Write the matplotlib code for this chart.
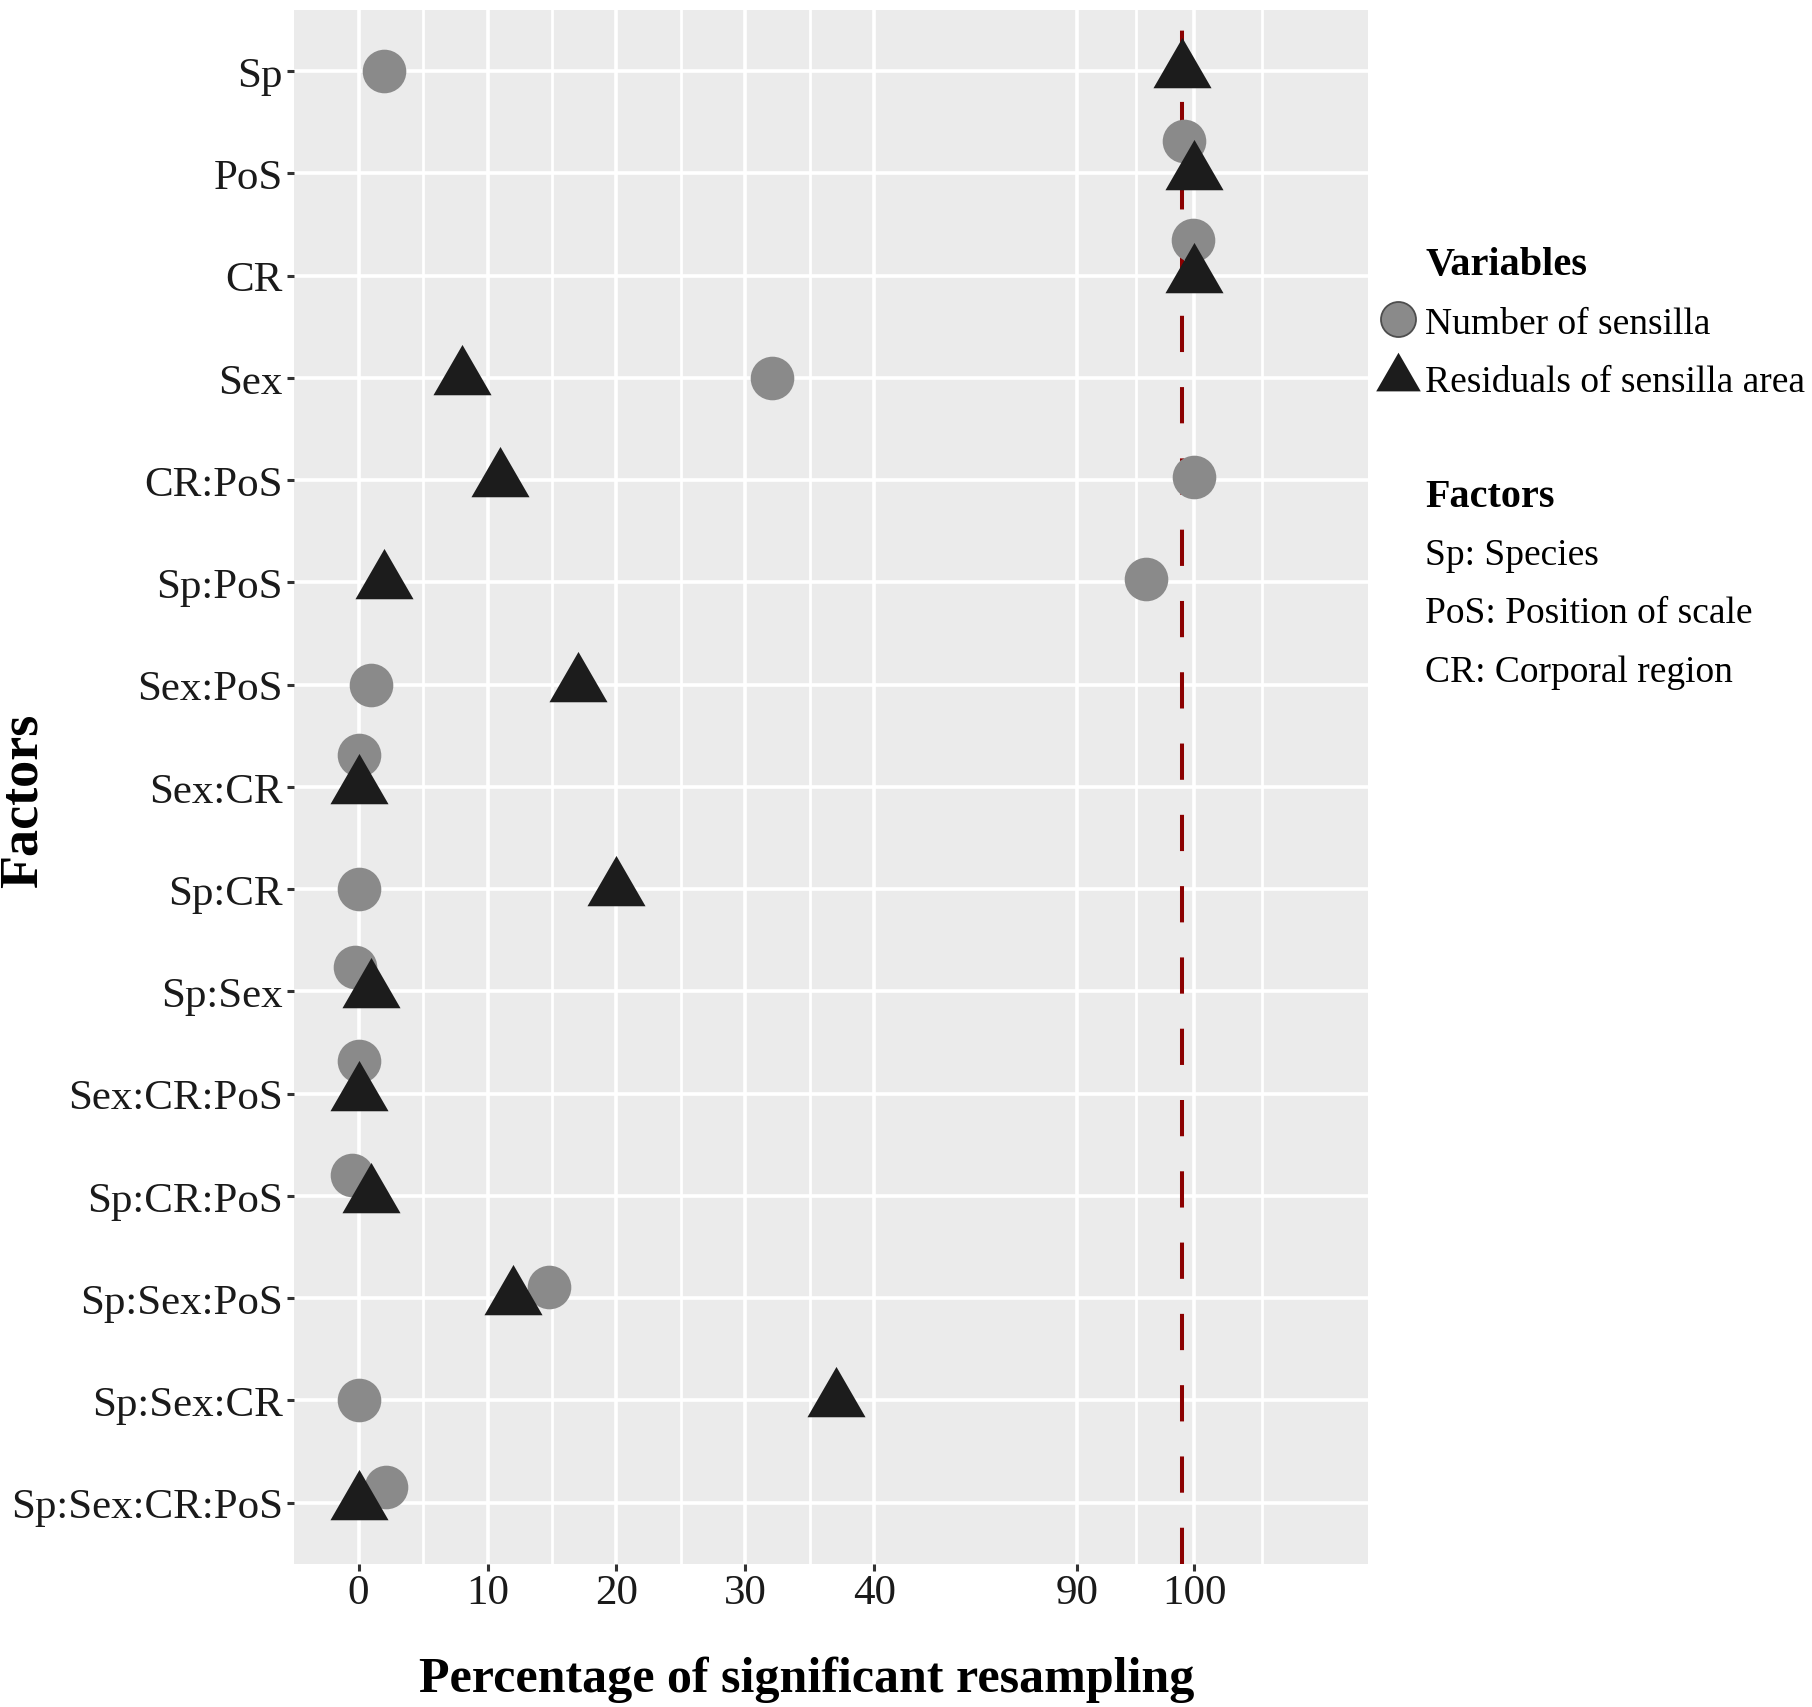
import numpy as np
import matplotlib.pyplot as plt
from matplotlib.lines import Line2D
from matplotlib.path import Path

plt.rcParams['font.family'] = ['Liberation Serif', 'DejaVu Serif']

# 1. data (top to bottom)
factors = ['Sp', 'PoS', 'CR', 'Sex', 'CR:PoS', 'Sp:PoS', 'Sex:PoS', 'Sex:CR',
           'Sp:CR', 'Sp:Sex', 'Sex:CR:PoS', 'Sp:CR:PoS', 'Sp:Sex:PoS',
           'Sp:Sex:CR', 'Sp:Sex:CR:PoS']
n_sensilla = [2.0, 99.1, 99.9, 32.1, 100.0, 95.9, 1.0, 0.0,
              0.0, -0.3, 0.0, -0.5, 14.75, 0.0, 2.15]
# vertical jitter of the circles (in rows, negative = up)
n_sensilla_jitter = [0, -0.32, -0.35, 0, -0.035, -0.03, 0, -0.31,
                     0, -0.24, -0.32, -0.2, -0.11, 0, -0.15]
resid_area = [99.0, 100.0, 100.0, 8.0, 11.0, 2.0, 17.0, 0.0,
              20.0, 1.0, 0.0, 1.0, 12.0, 37.0, 0.0]
threshold = 99

xticks = [0, 10, 20, 30, 40, 90, 100]
xminor = [5, 15, 25, 35, 95, 105]

factor_notes = ['Sp: Species', 'PoS: Position of scale', 'CR: Corporal region']

# 2. broken x scale: 0-40 linear, 40-90 squeezed, 90-100 slightly compressed
knots_data = [-20, 0, 40, 90, 100, 105, 130]
knots_axis = [-20, 0, 40, 55.72, 64.82, 70.05, 96.2]

def fwd(x):
    return np.interp(x, knots_data, knots_axis)

def inv(x):
    return np.interp(x, knots_axis, knots_data)

# equilateral triangle centred on its centroid (like ggplot shape 17)
tri = Path([(-0.5, -0.2887), (0.5, -0.2887), (0, 0.5774), (-0.5, -0.2887)],
           [Path.MOVETO, Path.LINETO, Path.LINETO, Path.CLOSEPOLY])

col_circle = '#8a8a8a'
col_tri = '#1c1c1c'

fig = plt.figure(figsize=(18.12, 17.08), dpi=100)
ax = fig.add_axes([294 / 1812, 1 - 1565 / 1708, (1368 - 294) / 1812, (1565 - 10.7) / 1708])
ax.set_xscale('function', functions=(fwd, inv))
ax.set_facecolor('#ebebeb')
for s in ax.spines.values():
    s.set_visible(False)
ax.set_axisbelow(True)

y = np.arange(len(factors))
ax.axvline(threshold, color='#8b0000', lw=2.9, linestyle=(0, (9, 8.7)), zorder=1.5)
ax.plot(n_sensilla, y + np.array(n_sensilla_jitter), 'o', color=col_circle, ms=31.4,
        mew=0, zorder=3)
ax.plot(resid_area, y, linestyle='none', marker=tri, color=col_tri, ms=48.3, mew=0, zorder=4)

ax.set_ylim(len(factors) - 0.4, -0.6)
ax.set_yticks(y)
ax.set_yticklabels(factors)
ax.set_xlim(inv(-5.01), inv(78.3))
ax.set_xticks(xticks)
ax.set_xticklabels([str(t) for t in xticks])
ax.set_xticks(xminor, minor=True)

ax.grid(which='major', color='white', lw=2.6)
ax.grid(which='minor', axis='x', color='white', lw=2.0)
ax.tick_params(axis='both', which='major', labelsize=31, colors='#333333',
               labelcolor='#1a1a1a', length=5, width=2.2)
ax.tick_params(axis='y', pad=3)
ax.tick_params(axis='x', pad=2)
ax.tick_params(which='minor', length=0)

fig.text(807 / 1812, 1 - 1692 / 1708, 'Percentage of significant resampling',
         ha='center', va='baseline', fontsize=36, fontweight='bold')
fig.text(23.5 / 1812, 1 - 801 / 1708, 'Factors', rotation=90, ha='center', va='center',
         fontsize=39, fontweight='bold')

# 3. legend
fig.text(1425 / 1812, 1 - 275 / 1708, 'Variables', ha='left', va='baseline',
         fontsize=29, fontweight='bold')
handles = [
    Line2D([], [], linestyle='none', marker='o', ms=25.2, mfc=col_circle,
           mec='#4d4d4d', mew=1.3, label='Number of sensilla'),
    Line2D([], [], linestyle='none', marker=tri, ms=37.1, color=col_tri, mew=0,
           label='Residuals of sensilla area'),
]
ax.legend(handles=handles, loc='upper left', bbox_to_anchor=(1379 / 1812, 1 - 307 / 1708),
          bbox_transform=fig.transFigure, frameon=False, fontsize=27, borderpad=0,
          handlelength=1.0, handletextpad=0.227, labelspacing=0.645, numpoints=1,
          borderaxespad=0)

fig.text(1425 / 1812, 1 - 507 / 1708, 'Factors', ha='left', va='baseline',
         fontsize=29, fontweight='bold')
for i, note in enumerate(factor_notes):
    fig.text(1425 / 1812, 1 - (565 + 58.3 * i) / 1708, note, ha='left', va='baseline',
             fontsize=27)

fig.savefig('out.png', dpi=100)
